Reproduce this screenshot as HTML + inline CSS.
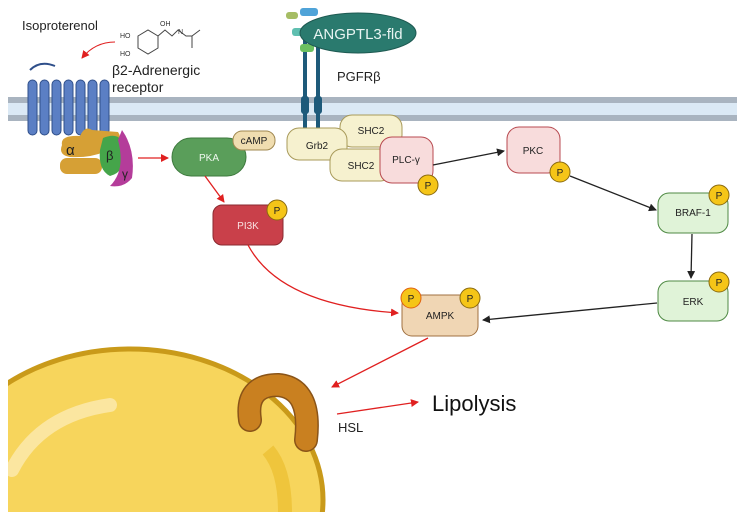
<!DOCTYPE html>
<html><head><meta charset="utf-8"><style>
body{margin:0;background:#fff;overflow:hidden}
svg{display:block;font-family:"Liberation Sans",sans-serif}
</style></head><body>
<svg width="746" height="521" viewBox="0 0 746 521">
<defs>
<marker id="ar" markerWidth="8" markerHeight="8" refX="7" refY="4" orient="auto" markerUnits="userSpaceOnUse"><path d="M0,0 L8,4 L0,8 Z" fill="#e02020"/></marker>
<marker id="ab" markerWidth="8" markerHeight="8" refX="7" refY="4" orient="auto" markerUnits="userSpaceOnUse"><path d="M0,0 L8,4 L0,8 Z" fill="#222"/></marker>
<clipPath id="dc"><rect x="8" y="300" width="400" height="212"/></clipPath>
</defs>
<g>
<rect x="8" y="97" width="729" height="24" fill="#dbe9f5"/>
<rect x="8" y="97" width="729" height="6" fill="#a9b4c0"/>
<rect x="8" y="115" width="729" height="6" fill="#a9b4c0"/>
</g>
<g clip-path="url(#dc)">
<ellipse cx="130" cy="500" rx="193" ry="151" fill="#f7d55c" stroke="#c99a1a" stroke-width="5"/>
<path d="M12,470 Q40,415 110,405" stroke="#fbe6a0" stroke-width="14" fill="none" stroke-linecap="round"/>
<path d="M268,450 Q285,470 285,512" stroke="#efc53c" stroke-width="14" fill="none"/>
</g>
<g>
<path d="M250,420 Q245,385 278,385 Q312,388 306,440" stroke="#8a5418" stroke-width="24" fill="none" stroke-linecap="round"/>
<path d="M250,420 Q245,385 278,385 Q312,388 306,440" stroke="#c98020" stroke-width="21" fill="none" stroke-linecap="round"/>
</g>
<text x="338" y="432" font-size="13" fill="#222">HSL</text>
<g fill="#5b7fc4" stroke="#2f4f8a" stroke-width="1">
<path d="M30,70 Q40,60 55,66" stroke="#2f4f8a" stroke-width="2" fill="none"/>
<rect x="28" y="80" width="9" height="55" rx="4.5"/>
<rect x="40" y="80" width="9" height="55" rx="4.5"/>
<rect x="52" y="80" width="9" height="55" rx="4.5"/>
<rect x="64" y="80" width="9" height="55" rx="4.5"/>
<rect x="76" y="80" width="9" height="55" rx="4.5"/>
<rect x="88" y="80" width="9" height="55" rx="4.5"/>
<rect x="100" y="80" width="9" height="55" rx="4.5"/>
</g>
<g>
<path d="M62,145 Q60,135 80,136 Q85,125 92,130 L118,132 Q124,140 110,148 L104,152 Q90,158 70,157 Q58,155 62,145 Z" fill="#d6a035"/>
<rect x="60" y="158" width="42" height="16" rx="7" fill="#d6a035"/>
<text x="66" y="155" font-size="15" fill="#222">α</text>
<path d="M103,138 Q122,130 125,150 Q126,172 110,176 Q98,170 100,150 Z" fill="#45a54a"/>
<text x="106" y="160" font-size="13" fill="#222">β</text>
<path d="M122,130 Q136,150 132,178 Q124,188 110,186 Q126,170 118,140 Z" fill="#b43c9a"/>
<text x="122" y="178" font-size="12" fill="#222">γ</text>
</g>
<text x="22" y="30" font-size="13" fill="#222">Isoproterenol</text>
<g stroke="#444" stroke-width="1" fill="none">
<polygon points="138,36 148,30 158,36 158,48 148,54 138,48"/>
<path d="M158,36 L165,30 L172,36 L178,30 L186,36 L192,36 L192,48 M192,36 L200,30"/>
<text x="120" y="38" font-size="7" fill="#333" stroke="none">HO</text>
<text x="120" y="56" font-size="7" fill="#333" stroke="none">HO</text>
<text x="160" y="26" font-size="7" fill="#333" stroke="none">OH</text>
<text x="178" y="34" font-size="7" fill="#333" stroke="none">N</text>
</g>
<path d="M115,42 Q95,42 82,58" stroke="#e02020" stroke-width="1" fill="none" marker-end="url(#ar)"/>
<text x="112" y="75" font-size="14" fill="#222">β2-Adrenergic</text>
<text x="112" y="92" font-size="14" fill="#222">receptor</text>
<g>
<rect x="303" y="40" width="4" height="90" fill="#1e5a7a"/>
<rect x="316" y="40" width="4" height="90" fill="#1e5a7a"/>
<rect x="301" y="96" width="8" height="18" rx="3" fill="#1e5a7a"/>
<rect x="314" y="96" width="8" height="18" rx="3" fill="#1e5a7a"/>
<rect x="286" y="12" width="12" height="7" rx="3" fill="#a6bd64"/>
<rect x="292" y="28" width="14" height="8" rx="3" fill="#5fbfb0"/>
<rect x="300" y="44" width="14" height="8" rx="3" fill="#6cc060"/>
<rect x="300" y="8" width="18" height="8" rx="3" fill="#4fa3d8"/>
</g>
<ellipse cx="358" cy="33" rx="58" ry="20" fill="#2a7a6e" stroke="#1e5a52"/>
<text x="358" y="39" font-size="15" fill="#e8f4f2" text-anchor="middle">ANGPTL3-fld</text>
<text x="337" y="81" font-size="13" fill="#222">PGFRβ</text>
<g font-size="10" fill="#222" text-anchor="middle">
<rect x="340" y="115" width="62" height="32" rx="12" fill="#f6f1cf" stroke="#a89a5a"/>
<text x="371" y="134">SHC2</text>
<rect x="287" y="128" width="60" height="32" rx="12" fill="#f6f1cf" stroke="#a89a5a"/>
<text x="317" y="149">Grb2</text>
<rect x="330" y="149" width="62" height="32" rx="12" fill="#f6f1cf" stroke="#a89a5a"/>
<text x="361" y="169">SHC2</text>
<rect x="380" y="137" width="53" height="46" rx="12" fill="#f8dcdc" stroke="#b84a50"/>
<text x="406" y="163">PLC-γ</text>
<rect x="507" y="127" width="53" height="46" rx="12" fill="#f8dcdc" stroke="#b84a50"/>
<text x="533" y="154">PKC</text>
<rect x="658" y="193" width="70" height="40" rx="11" fill="#e0f3d8" stroke="#4f8a44"/>
<text x="693" y="216">BRAF-1</text>
<rect x="658" y="281" width="70" height="40" rx="11" fill="#e0f3d8" stroke="#4f8a44"/>
<text x="693" y="305">ERK</text>
<rect x="402" y="295" width="76" height="41" rx="10" fill="#f0d6b4" stroke="#a07040"/>
<text x="440" y="319">AMPK</text>
<rect x="172" y="138" width="74" height="38" rx="19" fill="#5a9e5a" stroke="#3e7a3e"/>
<text x="209" y="161" fill="#eef8ee">PKA</text>
<rect x="233" y="131" width="42" height="19" rx="9" fill="#f0ddb0" stroke="#a08850"/>
<text x="254" y="144">cAMP</text>
<rect x="213" y="205" width="70" height="40" rx="9" fill="#c9404a" stroke="#8a2a30"/>
<text x="248" y="229" fill="#f8e0e0">PI3K</text>
</g>
<g font-size="10" fill="#222" text-anchor="middle">
<circle cx="277" cy="210" r="10" fill="#f5c518" stroke="#8a6a10"/><text x="277" y="214">P</text>
<circle cx="428" cy="185" r="10" fill="#f5c518" stroke="#8a6a10"/><text x="428" y="189">P</text>
<circle cx="560" cy="172" r="10" fill="#f5c518" stroke="#8a6a10"/><text x="560" y="176">P</text>
<circle cx="719" cy="195" r="10" fill="#f5c518" stroke="#8a6a10"/><text x="719" y="199">P</text>
<circle cx="719" cy="282" r="10" fill="#f5c518" stroke="#8a6a10"/><text x="719" y="286">P</text>
<circle cx="411" cy="298" r="10" fill="#f5c518" stroke="#e06010"/><text x="411" y="302">P</text>
<circle cx="470" cy="298" r="10" fill="#f5c518" stroke="#8a6a10"/><text x="470" y="302">P</text>
</g>
<g stroke-width="1.3" fill="none">
<path d="M138,158 L168,158" stroke="#e02020" marker-end="url(#ar)"/>
<path d="M205,176 L224,202" stroke="#e02020" marker-end="url(#ar)"/>
<path d="M248,245 Q280,305 398,313" stroke="#e02020" marker-end="url(#ar)"/>
<path d="M428,338 L332,387" stroke="#e02020" marker-end="url(#ar)"/>
<path d="M337,414 L418,402" stroke="#e02020" marker-end="url(#ar)"/>
<path d="M433,165 L504,151" stroke="#222" marker-end="url(#ab)"/>
<path d="M570,176 L656,210" stroke="#222" marker-end="url(#ab)"/>
<path d="M692,234 L691,278" stroke="#222" marker-end="url(#ab)"/>
<path d="M657,303 L483,320" stroke="#222" marker-end="url(#ab)"/>
</g>
<text x="432" y="411" font-size="22" fill="#111">Lipolysis</text>
</svg>
</body></html>
